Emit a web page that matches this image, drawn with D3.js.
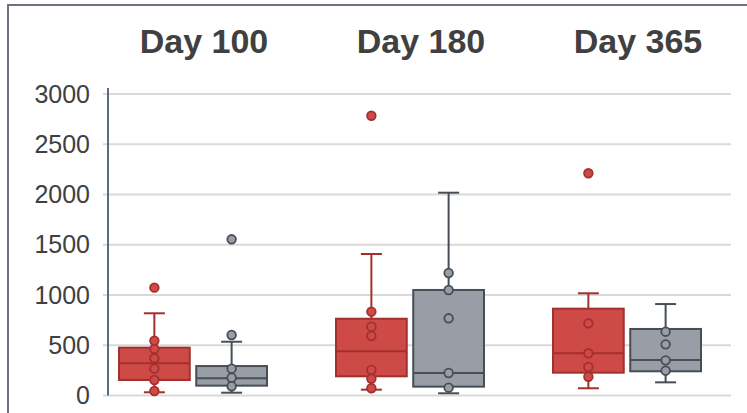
<!DOCTYPE html>
<html>
<head>
<meta charset="utf-8">
<script src="https://cdn.jsdelivr.net/npm/d3@7"></script>
<style>
  html, body { margin: 0; padding: 0; background: #fff; }
  svg { display: block; }
</style>
</head>
<body>
<svg id="chart" width="747" height="413"></svg>
<script>
// Groups and series
const days = ["Day 100", "Day 180", "Day 365"];
const series = ["A", "B"];

// Box summaries per day: [whisker low, Q1, median, Q3, whisker high]
const boxA = [
  [32, 154, 320, 476, 818],
  [58, 191, 440, 764, 1408],
  [72, 227, 420, 864, 1017]
];
const boxB = [
  [28, 98, 171, 293, 535],
  [22, 88, 224, 1050, 2018],
  [131, 241, 353, 662, 910]
];

// Individual observations per day
const pointsA = [
  [1073, 545, 463, 370, 267, 154, 45],
  [2784, 834, 685, 592, 254, 167, 72],
  [2211, 718, 420, 284, 187]
];
const pointsB = [
  [1554, 602, 267, 177, 92],
  [1219, 1050, 768, 224, 78],
  [635, 509, 350, 247]
];

const yTicks = [0, 500, 1000, 1500, 2000, 2500, 3000];

const fills = { A: "#cd4a47", B: "#989ea5" };
const strokes = { A: "#a2302f", B: "#474e56" };
const textColor = "#404040";

const svg = d3.select("#chart");

// Outer frame
svg.append("rect")
  .attr("x", 8).attr("y", 5)
  .attr("width", 800).attr("height", 460)
  .attr("fill", "none")
  .attr("stroke", "#6b7480")
  .attr("stroke-width", 2);

const y = d3.scaleLinear().domain([0, 3000]).range([395.5, 94]);

const x = d3.scalePoint().domain(days).range([204, 638]);
const xInner = d3.scaleBand().domain(series)
  .range([-85, 63]).paddingInner(0.084).paddingOuter(0);
const bw = xInner.bandwidth();
const capW = 21;

// Gridlines
const grid = svg.append("g");
grid.selectAll("line").data(yTicks).join("line")
  .attr("x1", 103).attr("x2", 731)
  .attr("y1", d => y(d)).attr("y2", d => y(d))
  .attr("stroke", "#d9d9d9").attr("stroke-width", 2);

// Value axis
const yAxis = d3.axisLeft(y).tickValues(yTicks)
  .tickFormat(d3.format("d")).tickSize(0).tickPadding(18);
const gy = svg.append("g").attr("transform", "translate(108,0)").call(yAxis);
gy.select(".domain").remove();
gy.selectAll("text")
  .attr("font-family", "Liberation Sans, Arial, sans-serif")
  .attr("font-size", 25)
  .attr("fill", textColor);
svg.append("line")
  .attr("x1", 108).attr("x2", 108)
  .attr("y1", 88).attr("y2", y(0))
  .attr("stroke", "#5b6b80").attr("stroke-width", 2);

// Group titles
svg.append("g").selectAll("text").data(days).join("text")
  .attr("x", d => x(d)).attr("y", 53)
  .attr("text-anchor", "middle")
  .attr("font-family", "Liberation Sans, Arial, sans-serif")
  .attr("font-weight", "bold")
  .attr("font-size", 34)
  .attr("fill", textColor)
  .text(d => d);

// Boxes
const records = [];
days.forEach((day, i) => {
  records.push({ day, s: "A", box: boxA[i], pts: pointsA[i] });
  records.push({ day, s: "B", box: boxB[i], pts: pointsB[i] });
});

const g = svg.append("g").selectAll("g").data(records).join("g")
  .attr("transform", d => `translate(${x(d.day) + xInner(d.s) + bw / 2},0)`);

// Whiskers
g.append("line")
  .attr("x1", 0).attr("x2", 0)
  .attr("y1", d => y(d.box[0])).attr("y2", d => y(d.box[4]))
  .attr("stroke", d => strokes[d.s]).attr("stroke-width", 2);
g.append("line")
  .attr("x1", -capW / 2).attr("x2", capW / 2)
  .attr("y1", d => y(d.box[0])).attr("y2", d => y(d.box[0]))
  .attr("stroke", d => strokes[d.s]).attr("stroke-width", 2);
g.append("line")
  .attr("x1", -capW / 2).attr("x2", capW / 2)
  .attr("y1", d => y(d.box[4])).attr("y2", d => y(d.box[4]))
  .attr("stroke", d => strokes[d.s]).attr("stroke-width", 2);

// Interquartile box
g.append("rect")
  .attr("x", -bw / 2).attr("width", bw)
  .attr("y", d => y(d.box[3]))
  .attr("height", d => y(d.box[1]) - y(d.box[3]))
  .attr("fill", d => fills[d.s])
  .attr("stroke", d => strokes[d.s]).attr("stroke-width", 2);

// Median
g.append("line")
  .attr("x1", -bw / 2).attr("x2", bw / 2)
  .attr("y1", d => y(d.box[2])).attr("y2", d => y(d.box[2]))
  .attr("stroke", d => strokes[d.s]).attr("stroke-width", 2);

// Observations
g.each(function (d) {
  d3.select(this).selectAll("circle").data(d.pts).join("circle")
    .attr("cx", 0).attr("cy", v => y(v)).attr("r", 4.3)
    .attr("fill", fills[d.s])
    .attr("stroke", strokes[d.s]).attr("stroke-width", 1.8);
});
</script>
</body>
</html>
